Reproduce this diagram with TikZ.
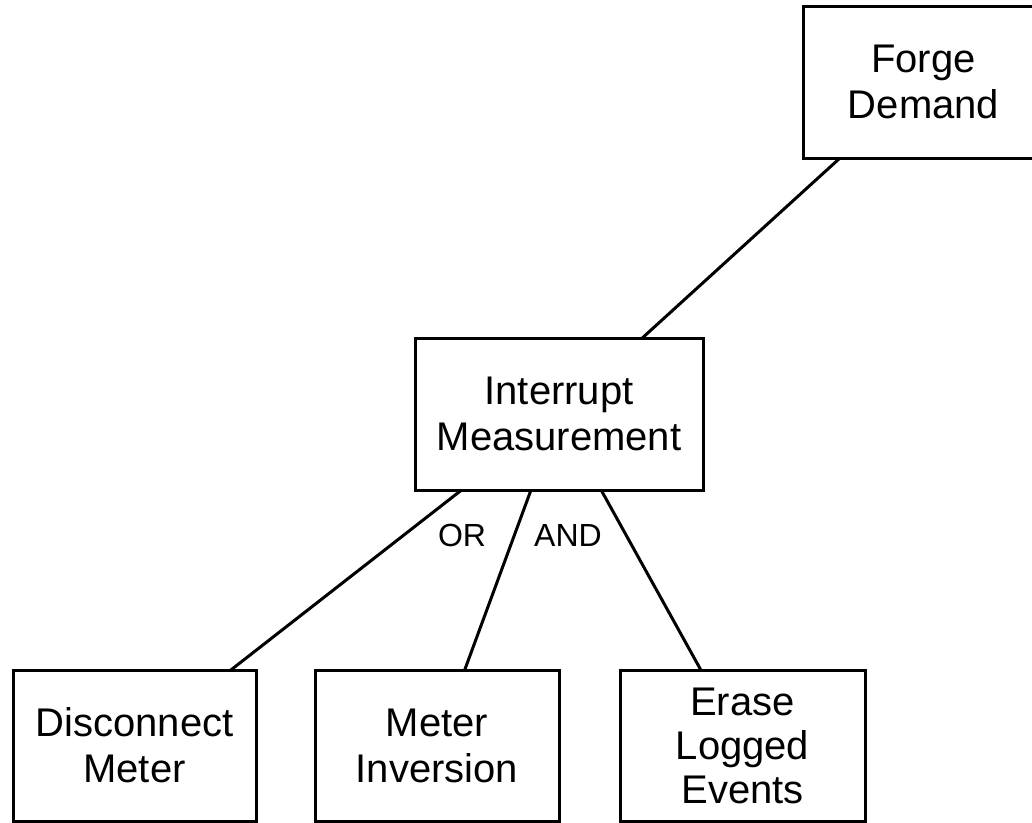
\documentclass[tikz,border=0pt]{standalone}
\usepackage{fontspec}
\setmainfont{Liberation Sans}
\begin{document}
\begin{tikzpicture}[x=1pt,y=1pt,
  box/.style={draw=black, line width=3pt, rectangle, inner sep=0pt, outer sep=0pt,
    align=center, font=\fontsize{40pt}{46pt}\selectfont},
  link/.style={draw=black, line width=3pt},
  gate/.style={font=\fontsize{32pt}{38pt}\selectfont, inner sep=0pt}]
\clip (0,0) rectangle (1032,-822);
\fill[white] (0,0) rectangle (1032,-822);

% attack tree nodes
\node[box, minimum width=241pt, minimum height=152pt] (forge) at (923.5,-82) {Forge\\Demand};
\node[box, minimum width=288pt, minimum height=152pt] (inter) at (559,-414) {Interrupt\\Measurement};
\node[box, minimum width=243pt, minimum height=151pt] (disc) at (134.5,-745.5) {Disconnect\\Meter};
\node[box, minimum width=244pt, minimum height=151pt] (inv) at (437,-745.5) {Meter\\Inversion};
\node[box, minimum width=245pt, minimum height=151pt, font=\fontsize{40pt}{44pt}\selectfont] (erase) at (742.5,-745.5) {Erase\\Logged\\Events};

% connectors
\draw[link] (forge) -- (inter);
\draw[link] (inter) -- (disc);
\draw[link] (inter) -- (inv);
\draw[link] (inter) -- (erase);

% gate labels
\node[gate] (orlabel) at (462,-535) {OR};
\node[gate] (andlabel) at (568,-535) {AND};
\end{tikzpicture}
\end{document}
